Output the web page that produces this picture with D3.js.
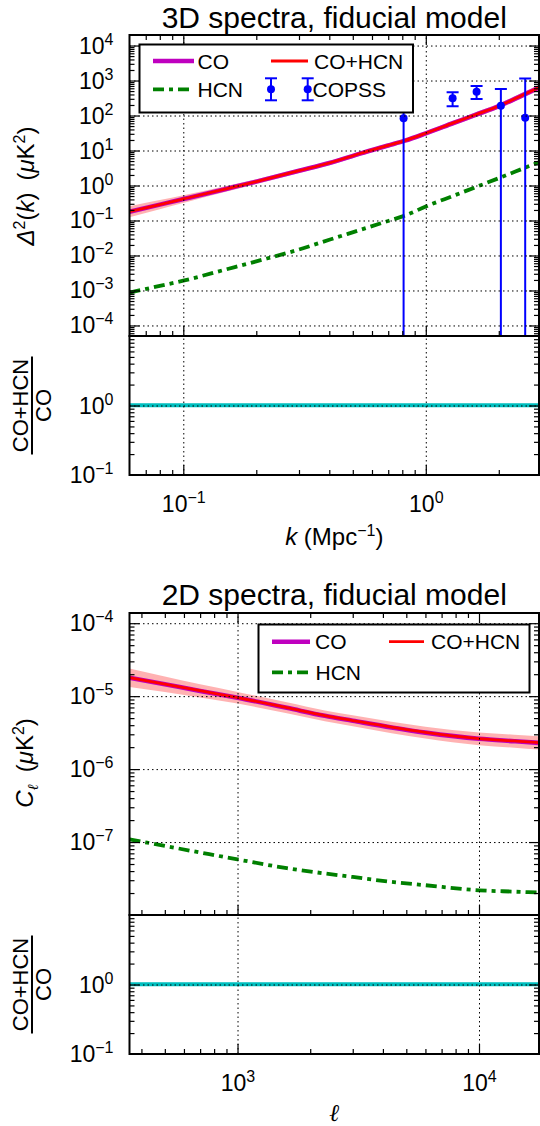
<!DOCTYPE html>
<html>
<head>
<meta charset="utf-8">
<script src="https://cdn.jsdelivr.net/npm/d3@7"></script>
<style>
  body { margin: 0; background: #fff; }
  svg { display: block; }
</style>
</head>
<body>
<svg id="fig" width="540" height="1126"></svg>
<script>
// ---------- 3D spectra (Delta^2(k) in uK^2) ----------
const k3d      = [0.06, 0.08, 0.1, 0.15, 0.2, 0.3, 0.4, 0.54, 0.7, 0.82, 1.0, 1.3, 1.6, 2.0, 2.5, 2.93];
const co3d     = [0.178, 0.284, 0.41, 0.80, 1.29, 2.63, 4.37, 8.3, 13.9, 19.1, 30.9, 61, 104, 186, 378, 628];
const co3dLo   = [0.123, 0.211, 0.318, 0.666, 1.10, 2.29, 3.81, 7.23, 12.1, 16.6, 26.9, 52.5, 88.3, 156, 315, 517];
const co3dHi   = [0.257, 0.383, 0.528, 0.962, 1.52, 3.02, 5.02, 9.53, 16.0, 21.9, 35.5, 70.9, 122, 220, 453, 763];
const hcn3d    = [0.00087, 0.00135, 0.0019, 0.0040, 0.0068, 0.0148, 0.0282, 0.0546, 0.097, 0.138, 0.251, 0.509, 0.889, 1.62, 3.0, 4.65];
const coHcn3d  = [0.1789, 0.2853, 0.4119, 0.804, 1.297, 2.645, 4.398, 8.355, 14.0, 19.24, 31.15, 61.5, 104.9, 187.6, 381, 633];
const ratio3d  = [1.005, 1.005, 1.005, 1.005, 1.005, 1.006, 1.006, 1.007, 1.007, 1.007, 1.008, 1.008, 1.009, 1.009, 1.008, 1.007];

// COPSS measurements (lower bounds of 1e-6 stand for bars that reach zero)
const copssK   = [0.81, 1.29, 1.62, 2.04, 2.57];
const copssD2  = [83, 310, 480, 191, 87];
const copssUp  = [420, 460, 696, 575, 1140];
const copssDn  = [1e-6, 183, 297, 1e-6, 1e-6];

// ---------- 2D spectra (C_ell in uK^2) ----------
const ell2d    = [357, 500, 700, 1000, 1600, 2300, 3000, 4345, 6000, 10000, 14000, 17720];
const co2d     = [1.79e-5, 1.456e-5, 1.18e-5, 9.51e-6, 6.92e-6, 5.37e-6, 4.60e-6, 3.72e-6, 3.16e-6, 2.60e-6, 2.41e-6, 2.29e-6];
const co2dLo   = [1.339e-5, 1.143e-5, 9.59e-6, 7.91e-6, 5.82e-6, 4.54e-6, 3.87e-6, 3.11e-6, 2.62e-6, 2.13e-6, 1.96e-6, 1.85e-6];
const co2dHi   = [2.393e-5, 1.855e-5, 1.451e-5, 1.143e-5, 8.23e-6, 6.35e-6, 5.47e-6, 4.45e-6, 3.82e-6, 3.18e-6, 2.96e-6, 2.83e-6];
const hcn2d    = [1.09e-7, 8.85e-8, 7.19e-8, 5.78e-8, 4.39e-8, 3.71e-8, 3.32e-8, 2.84e-8, 2.56e-8, 2.18e-8, 2.09e-8, 2.03e-8];
const coHcn2d  = [1.801e-5, 1.465e-5, 1.187e-5, 9.57e-6, 6.96e-6, 5.41e-6, 4.63e-6, 3.75e-6, 3.19e-6, 2.62e-6, 2.43e-6, 2.31e-6];
const ratio2d  = [1.006, 1.006, 1.006, 1.006, 1.0065, 1.0073, 1.0075, 1.0077, 1.008, 1.0085, 1.0087, 1.0089];

// ---------- axis tick values ----------
const xTicks3d     = [0.1, 1];
const yTicks3d     = [1e-4, 1e-3, 1e-2, 1e-1, 1, 10, 100, 1e3, 1e4];
const xTicks2d     = [1e3, 1e4];
const yTicks2d     = [1e-7, 1e-6, 1e-5, 1e-4];
const yTicksRatio  = [0.1, 1];

// ---------- styling ----------
const FONT = '"Liberation Sans", Arial, Helvetica, sans-serif';
const C_CO = "#bf00bf", C_SUM = "#ff0000", C_HCN = "#008000", C_OBS = "#0000ff", C_RATIO = "#00bfbf";
const W_CO = 4.6, W_SUM = 2.8, W_HCN = 3.8;
const DASH_HCN = "11,5,4,5";
const GRID_DASH = "1.5,3";

const svg = d3.select("#fig");
const plotL = 129.5, plotR = 539;

const sx3d = d3.scaleLog().domain([0.06, 2.93]).range([plotL, plotR]);
const sy3d = d3.scaleLog().domain([5e-5, 2e4]).range([336, 35]);
const sy3dR = d3.scaleLog().domain([0.1, 10]).range([475, 336]);
const sx2d = d3.scaleLog().domain([357, 17720]).range([plotL, plotR]);
const sy2d = d3.scaleLog().domain([1e-8, 1.38e-4]).range([915, 613]);
const sy2dR = d3.scaleLog().domain([0.1, 10]).range([1054, 915]);

function minorTicks(domain) {
  const out = [];
  const lo = Math.floor(Math.log10(domain[0])), hi = Math.ceil(Math.log10(domain[1]));
  for (let e = lo; e <= hi; e++)
    for (let m = 2; m <= 9; m++) {
      const v = m * Math.pow(10, e);
      if (v > domain[0] * 1.0001 && v < domain[1] * 0.9999) out.push(v);
    }
  return out;
}
function expText(v) {
  const e = Math.round(Math.log10(v));
  return e < 0 ? "\u2212" + (-e) : String(e);
}
function writePow(text, v) {
  text.text(null);
  text.append("tspan").text("10");
  text.append("tspan").attr("font-size", 16).attr("dy", -9).text(expText(v));
}
function cleanAxis(g) {
  g.select(".domain").remove();
  g.selectAll(".tick line").attr("stroke", "#000").attr("stroke-width", 1.2);
}

// one axes box: curves are handed in through a draw callback
let clipId = 0;
function panel(opt) {
  const { sx, sy, y0, y1, xMajor, yMajor, yLabelTicks, xLabels, topTicks, drawMarks } = opt;
  const g = svg.append("g");
  const id = "clip" + (clipId++);
  g.append("clipPath").attr("id", id).append("rect")
    .attr("x", plotL).attr("y", y0).attr("width", plotR - plotL).attr("height", y1 - y0);
  const marks = g.append("g").attr("clip-path", `url(#${id})`);
  drawMarks(marks);

  // dotted grid
  const grid = g.append("g").attr("clip-path", `url(#${id})`);
  grid.append("g").attr("transform", `translate(${plotL},0)`)
    .call(d3.axisLeft(sy).tickValues(yMajor).tickSize(-(plotR - plotL)).tickFormat(""))
    .call(a => { a.select(".domain").remove(); a.selectAll("line").attr("stroke", "#000").attr("stroke-width", 1).attr("stroke-dasharray", GRID_DASH); });
  grid.append("g").attr("transform", `translate(0,${y1})`)
    .call(d3.axisBottom(sx).tickValues(xMajor).tickSize(-(y1 - y0)).tickFormat(""))
    .call(a => { a.select(".domain").remove(); a.selectAll("line").attr("stroke", "#000").attr("stroke-width", 1).attr("stroke-dasharray", GRID_DASH); });

  const yMinor = minorTicks(sy.domain());
  const xMinor = minorTicks(sx.domain());
  const majY = yMajor.filter(v => sy(v) > y0 + 0.5 && sy(v) < y1 - 0.5);

  // left / right ticks (pointing inward)
  g.append("g").attr("transform", `translate(${plotL},0)`).call(d3.axisLeft(sy).tickValues(yMinor).tickSize(-5).tickFormat("")).call(cleanAxis);
  g.append("g").attr("transform", `translate(${plotL},0)`).call(d3.axisLeft(sy).tickValues(majY).tickSize(-10).tickFormat("")).call(cleanAxis);
  g.append("g").attr("transform", `translate(${plotR},0)`).call(d3.axisRight(sy).tickValues(yMinor).tickSize(-5).tickFormat("")).call(cleanAxis);
  g.append("g").attr("transform", `translate(${plotR},0)`).call(d3.axisRight(sy).tickValues(majY).tickSize(-10).tickFormat("")).call(cleanAxis);

  // y tick labels
  g.append("g").attr("transform", `translate(${plotL},0)`)
    .call(d3.axisLeft(sy).tickValues(yLabelTicks).tickSize(0).tickPadding(16))
    .call(a => {
      a.select(".domain").remove();
      a.selectAll(".tick line").remove();
      a.selectAll(".tick text").attr("font-family", FONT).attr("font-size", 23).attr("fill", "#000")
        .attr("dy", 7.5).each(function (d) { writePow(d3.select(this), d); });
    });

  // bottom ticks (pointing up)
  g.append("g").attr("transform", `translate(0,${y1})`).call(d3.axisBottom(sx).tickValues(xMinor).tickSize(-5).tickFormat("")).call(cleanAxis);
  g.append("g").attr("transform", `translate(0,${y1})`).call(d3.axisBottom(sx).tickValues(xMajor).tickSize(-10).tickFormat("")).call(cleanAxis);
  if (topTicks) {
    g.append("g").attr("transform", `translate(0,${y0})`).call(d3.axisTop(sx).tickValues(xMinor).tickSize(-5).tickFormat("")).call(cleanAxis);
    g.append("g").attr("transform", `translate(0,${y0})`).call(d3.axisTop(sx).tickValues(xMajor).tickSize(-10).tickFormat("")).call(cleanAxis);
  }
  if (xLabels) {
    g.append("g").attr("transform", `translate(0,${y1})`)
      .call(d3.axisBottom(sx).tickValues(xMajor).tickSize(0))
      .call(a => {
        a.select(".domain").remove();
        a.selectAll(".tick line").remove();
        a.selectAll(".tick text").attr("font-family", FONT).attr("font-size", 23).attr("fill", "#000")
          .attr("y", 36.5).attr("dy", 0).each(function (d) { writePow(d3.select(this), d); });
      });
  }

  // spines
  g.append("rect").attr("x", plotL).attr("y", y0).attr("width", plotR - plotL).attr("height", y1 - y0)
    .attr("fill", "none").attr("stroke", "#000").attr("stroke-width", 2);
  return g;
}

function bandPath(sx, sy, xs, lo, hi) {
  return d3.area().x((d, i) => sx(xs[i])).y0((d, i) => sy(lo[i])).y1((d, i) => sy(hi[i]))
    .curve(d3.curveMonotoneX)(xs);
}
function linePath(sx, sy, xs, ys) {
  return d3.line().x((d, i) => sx(xs[i])).y((d, i) => sy(ys[i])).curve(d3.curveMonotoneX)(xs);
}

function spectrumMarks(m, sx, sy, xs, co, lo, hi, sum, hcn) {
  m.append("path").attr("d", bandPath(sx, sy, xs, lo, hi)).attr("fill", C_SUM).attr("fill-opacity", 0.3);
  m.append("path").attr("d", linePath(sx, sy, xs, co)).attr("fill", "none").attr("stroke", C_CO).attr("stroke-width", W_CO);
  m.append("path").attr("d", linePath(sx, sy, xs, sum)).attr("fill", "none").attr("stroke", C_SUM).attr("stroke-width", W_SUM);
  m.append("path").attr("d", linePath(sx, sy, xs, hcn)).attr("fill", "none").attr("stroke", C_HCN)
    .attr("stroke-width", W_HCN).attr("stroke-dasharray", DASH_HCN);
}

// ================= 3D spectra =================
panel({
  sx: sx3d, sy: sy3d, y0: 35, y1: 336, xMajor: xTicks3d, yMajor: yTicks3d, yLabelTicks: yTicks3d,
  xLabels: false, topTicks: true,
  drawMarks: m => {
    spectrumMarks(m, sx3d, sy3d, k3d, co3d, co3dLo, co3dHi, coHcn3d, hcn3d);
    const obs = m.append("g");
    copssK.forEach((k, i) => {
      const x = sx3d(k);
      obs.append("line").attr("x1", x).attr("x2", x).attr("y1", sy3d(copssUp[i])).attr("y2", sy3d(copssDn[i]))
        .attr("stroke", C_OBS).attr("stroke-width", 2);
      [copssUp[i], copssDn[i]].forEach(v => {
        obs.append("line").attr("x1", x - 6).attr("x2", x + 6).attr("y1", sy3d(v)).attr("y2", sy3d(v))
          .attr("stroke", C_OBS).attr("stroke-width", 2);
      });
      obs.append("circle").attr("cx", x).attr("cy", sy3d(copssD2[i])).attr("r", 4).attr("fill", C_OBS);
    });
  }
});
panel({
  sx: sx3d, sy: sy3dR, y0: 336, y1: 475, xMajor: xTicks3d, yMajor: [1], yLabelTicks: yTicksRatio,
  xLabels: true, topTicks: false,
  drawMarks: m => {
    m.append("path").attr("d", linePath(sx3d, sy3dR, k3d, ratio3d)).attr("fill", "none")
      .attr("stroke", C_RATIO).attr("stroke-width", 4);
  }
});

// ================= 2D spectra =================
panel({
  sx: sx2d, sy: sy2d, y0: 613, y1: 915, xMajor: xTicks2d, yMajor: yTicks2d, yLabelTicks: yTicks2d,
  xLabels: false, topTicks: true,
  drawMarks: m => spectrumMarks(m, sx2d, sy2d, ell2d, co2d, co2dLo, co2dHi, coHcn2d, hcn2d)
});
panel({
  sx: sx2d, sy: sy2dR, y0: 915, y1: 1054, xMajor: xTicks2d, yMajor: [1], yLabelTicks: yTicksRatio,
  xLabels: true, topTicks: false,
  drawMarks: m => {
    m.append("path").attr("d", linePath(sx2d, sy2dR, ell2d, ratio2d)).attr("fill", "none")
      .attr("stroke", C_RATIO).attr("stroke-width", 4);
  }
});

// ================= titles and axis labels =================
const cx = (plotL + plotR) / 2;
function label(x, y, size, rotate) {
  const t = svg.append("text").attr("font-family", FONT).attr("font-size", size).attr("fill", "#000")
    .attr("text-anchor", "middle");
  if (rotate) t.attr("transform", `translate(${x},${y}) rotate(-90)`);
  else t.attr("x", x).attr("y", y);
  return t;
}
label(cx, 27.5, 30).text("3D spectra, fiducial model");
label(cx, 605, 30).text("2D spectra, fiducial model");

// Δ²(k) (μK²)
{
  const t = label(34, 186, 24, true);
  t.append("tspan").attr("font-style", "italic").text("\u0394");
  t.append("tspan").attr("font-size", 16).attr("dy", -9).text("2");
  t.append("tspan").attr("dy", 9).text("(");
  t.append("tspan").attr("font-style", "italic").text("k");
  t.append("tspan").text(")\u2002(");
  t.append("tspan").attr("font-style", "italic").text("\u03bc");
  t.append("tspan").text("K");
  t.append("tspan").attr("font-size", 16).attr("dy", -9).text("2");
  t.append("tspan").attr("dy", 9).text(")");
}
// C_ℓ (μK²)
{
  const t = label(33, 763, 24, true);
  t.append("tspan").attr("font-style", "italic").text("C");
  t.append("tspan").attr("font-size", 15).attr("dy", 5).attr("font-family", '"DejaVu Serif", serif').attr("font-style", "italic").text("\u2113");
  t.append("tspan").attr("dy", -5).text("\u2002(");
  t.append("tspan").attr("font-style", "italic").text("\u03bc");
  t.append("tspan").text("K");
  t.append("tspan").attr("font-size", 16).attr("dy", -9).text("2");
  t.append("tspan").attr("dy", 9).text(")");
}
// ratio labels: (CO+HCN)/CO written as a stacked fraction
function ratioLabel(cy) {
  label(27.5, cy, 22, true).text("CO+HCN");
  label(51, cy, 22, true).text("CO");
  svg.append("line").attr("x1", 32).attr("x2", 32).attr("y1", cy - 49).attr("y2", cy + 49)
    .attr("stroke", "#000").attr("stroke-width", 2);
}
ratioLabel(sy3dR(1));
ratioLabel(sy2dR(1));

// k (Mpc⁻¹)
{
  const t = label(cx, 545, 24, false);
  t.append("tspan").attr("font-style", "italic").text("k");
  t.append("tspan").text(" (Mpc");
  t.append("tspan").attr("font-size", 16).attr("dy", -9).text("\u22121");
  t.append("tspan").attr("dy", 9).text(")");
}
// ℓ
label(cx, 1121, 24, false).attr("font-family", '"DejaVu Serif", serif').attr("font-style", "italic").text("\u2113");

// ================= legends =================
function legendBox(x0, y0, x1, y1) {
  svg.append("rect").attr("x", x0).attr("y", y0).attr("width", x1 - x0).attr("height", y1 - y0)
    .attr("fill", "#fff").attr("stroke", "#000").attr("stroke-width", 2);
}
function legLine(x0, x1, y, color, w, dash) {
  const l = svg.append("line").attr("x1", x0).attr("x2", x1).attr("y1", y).attr("y2", y)
    .attr("stroke", color).attr("stroke-width", w);
  if (dash) l.attr("stroke-dasharray", dash);
}
function legText(x, y, s) {
  svg.append("text").attr("x", x).attr("y", y + 7.5).attr("font-family", FONT).attr("font-size", 21)
    .attr("fill", "#000").text(s);
}
function legErr(x, y) {
  svg.append("line").attr("x1", x).attr("x2", x).attr("y1", y - 11).attr("y2", y + 11).attr("stroke", C_OBS).attr("stroke-width", 2);
  [y - 11, y + 11].forEach(v => svg.append("line").attr("x1", x - 6).attr("x2", x + 6).attr("y1", v).attr("y2", v).attr("stroke", C_OBS).attr("stroke-width", 2));
  svg.append("circle").attr("cx", x).attr("cy", y).attr("r", 4).attr("fill", C_OBS);
}

// 3D legend
legendBox(139.5, 44.5, 413, 112.5);
legLine(153, 194, 61, C_CO, W_CO);
legText(197.5, 61, "CO");
legLine(271, 308, 61, C_SUM, W_SUM);
legText(314, 61, "CO+HCN");
legLine(153, 192, 89.3, C_HCN, W_HCN, DASH_HCN);
legText(197.5, 89.3, "HCN");
legErr(271, 89.3);
legErr(307.7, 89.3);
legText(312.5, 89.3, "COPSS");

// 2D legend
legendBox(258.5, 624.5, 529.5, 692.5);
legLine(272, 310, 641.7, C_CO, W_CO);
legText(315, 641.7, "CO");
legLine(389, 424, 641.7, C_SUM, W_SUM);
legText(431, 641.7, "CO+HCN");
legLine(272, 309, 672.3, C_HCN, W_HCN, DASH_HCN);
legText(315.5, 672.3, "HCN");
</script>
</body>
</html>
